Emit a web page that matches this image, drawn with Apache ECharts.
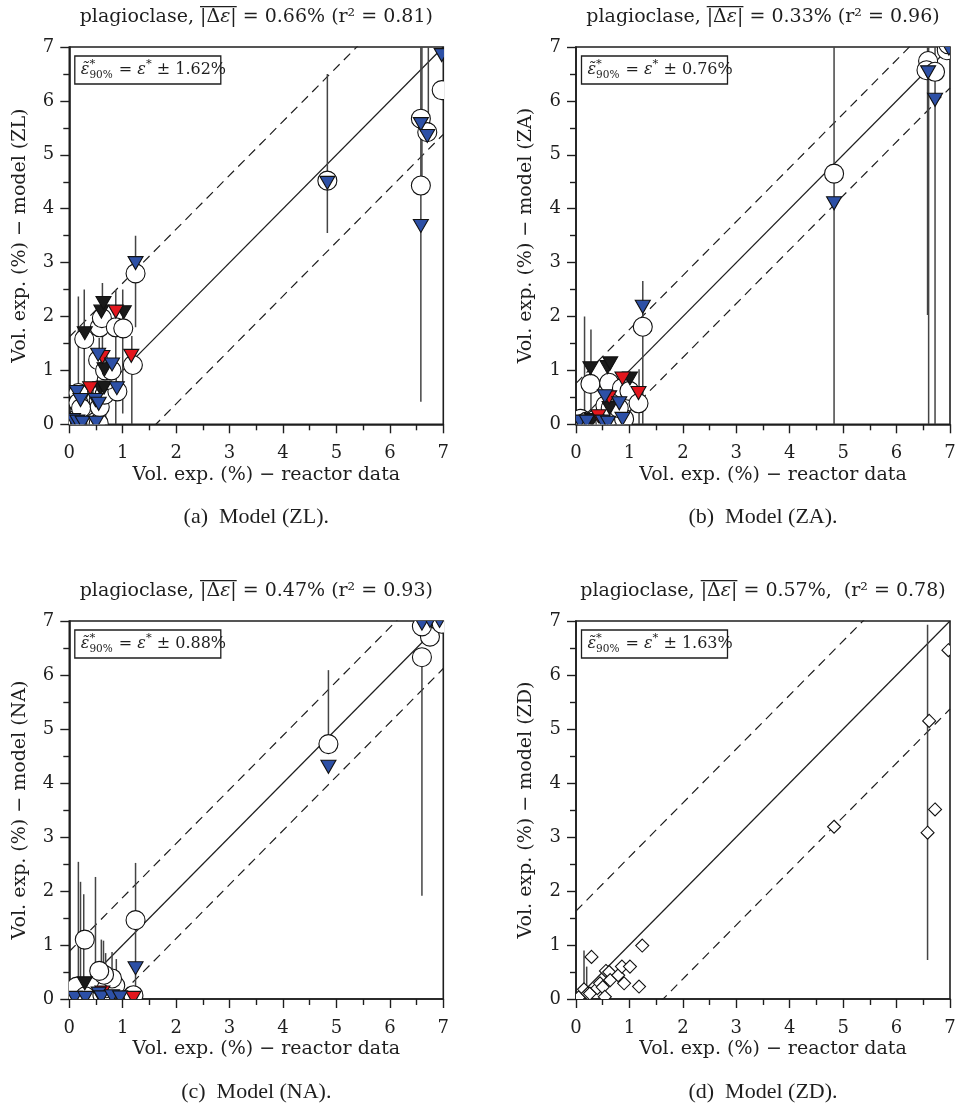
<!DOCTYPE html>
<html lang="en">
<head>
<meta charset="utf-8">
<title>plagioclase</title>
<script src="https://cdn.jsdelivr.net/npm/echarts@6/dist/echarts.min.js"></script>
<style>
  html, body { margin: 0; padding: 0; background: #fff; }
  #chart { width: 956px; height: 1105px; }
</style>
</head>
<body>
<div id="chart"></div>
<script>
// ---- data --------------------------------------------------------------
var modelKeys = ['ZL', 'ZA', 'NA', 'ZD'];
var captionLetters = ['(a)', '(b)', '(c)', '(d)'];
var meanAbsErr = ['0.66%', '0.33%', '0.47%', '0.57%,'];
var rSquared = ['0.81', '0.96', '0.93', '0.78'];
var band90 = [1.62, 0.76, 0.88, 1.63];
var axisMin = 0, axisMax = 7, axisStep = 1;

// (a) ZL : [reactor, model]
var zlCircles = [[0.05,0.05],[0.12,0.08],[0.2,0.05],[0.5,0.05],[0.55,0.02],[0.17,0.58],[0.17,0.4],[0.22,0.3],
  [0.55,0.45],[0.57,0.32],[0.62,0.6],[0.66,0.55],[0.9,0.61],[0.7,0.82],[0.28,1.58],[0.54,1.19],[0.67,1.0],
  [0.79,1.0],[1.19,1.1],[0.57,1.8],[0.61,1.97],[0.87,1.8],[1.01,1.78],[1.24,2.8],[4.83,4.52],[6.58,5.67],
  [6.58,4.43],[6.7,5.42],[6.97,6.2]];
var zlBlack = [[0.29,1.69],[0.6,2.09],[0.64,2.25],[1.02,2.08],[0.58,0.67],[0.65,0.68],[0.66,1.02]];
var zlRed = [[0.39,0.67],[0.87,2.09],[1.16,1.27],[0.62,1.25]];
var zlBlue = [[0.07,0.08],[0.15,0.05],[0.25,0.03],[0.5,0.03],[0.14,0.6],[0.21,0.45],[0.49,0.45],[0.55,0.38],
  [0.54,1.29],[0.8,1.11],[0.89,0.67],[1.24,2.99],[4.83,4.48],[6.58,5.57],[6.58,3.68],[6.7,5.35],[6.97,6.85]];
var zlBars = [[0.17,0,2.37],[0.28,0,2.5],[0.62,0.3,2.62],[0.56,0,1.6],[0.68,0,1.3],[0.87,0,2.49],[1.0,0.2,2.5],
  [1.17,0,1.64],[1.24,1.8,3.5],[4.83,3.55,6.5],[6.58,0.42,7.5],[6.6,4.6,7.5],[6.72,5.4,7.5]];

// (b) ZA
var zaCircles = [[0.09,0.1],[0.2,0.05],[0.35,0.08],[0.45,0.1],[0.55,0.05],[0.75,0.08],[0.9,0.1],[0.55,0.35],
  [0.65,0.3],[0.8,0.3],[0.27,0.75],[0.62,0.77],[0.86,0.67],[1.0,0.62],[1.17,0.39],[1.25,1.81],[4.83,4.65],
  [6.59,6.74],[6.56,6.57],[6.72,6.54],[6.94,6.94],[6.97,7.05]];
var zaBlack = [[0.3,0.08],[0.63,0.3],[0.27,1.04],[0.59,1.06],[0.64,1.13],[1.01,0.85]];
var zaRed = [[0.42,0.15],[0.62,0.5],[0.87,0.85],[1.17,0.58]];
var zaBlue = [[0.07,0.05],[0.2,0.05],[0.5,0.05],[0.6,0.03],[0.87,0.1],[0.54,0.52],[0.81,0.39],[1.25,2.18],
  [4.83,4.1],[6.59,6.53],[6.72,6.02],[6.98,6.97]];
var zaBars = [[0.16,0,2.0],[0.28,0,1.76],[1.18,0,1.02],[1.25,0,2.66],[4.83,0,7.5],[6.58,2.03,7.5],[6.6,0,7.5],
  [6.72,0,7.5]];

// (c) NA
var naCircles = [[0.1,0.05],[0.14,0.23],[0.46,0.23],[0.3,0.05],[0.62,0.08],[0.7,0.2],[0.86,0.25],[0.8,0.38],
  [0.65,0.45],[0.56,0.52],[1.2,0.07],[0.29,1.1],[1.24,1.46],[4.85,4.72],[6.6,6.33],[6.75,6.71],[6.6,6.9],
  [6.97,6.95]];
var naBlack = [[0.29,0.29]];
var naRed = [[0.62,0.12],[1.2,0.02]];
var naBlue = [[0.1,0.02],[0.3,0.02],[0.55,0.1],[0.6,0.03],[0.8,0.05],[0.95,0.03],[1.24,0.57],[4.85,4.3],
  [6.6,6.95],[6.75,7.0],[6.93,7.0]];
var naBars = [[0.17,0,2.54],[0.21,0,2.17],[0.27,0,1.94],[0.49,0,2.26],[0.6,0,1.1],[0.64,0,1.08],[0.68,0,0.85],
  [0.8,0,0.87],[0.88,0,0.74],[1.24,0,2.52],[4.85,4.72,6.09],[6.6,1.91,6.33]];

// (d) ZD
var zdDiamonds = [[0.05,0.03],[0.15,0.18],[0.22,0.1],[0.26,0.1],[0.29,0.78],[0.4,0.2],[0.45,0.29],[0.5,0.22],
  [0.54,0.04],[0.56,0.52],[0.62,0.5],[0.64,0.35],[0.79,0.44],[0.86,0.6],[0.9,0.29],[1.01,0.6],[1.18,0.23],
  [1.24,0.99],[4.83,3.19],[6.58,3.08],[6.61,5.15],[6.72,3.51],[6.97,6.46]];
var zdBars = [[0.15,0.2,0.9],[0.2,0.2,0.6],[6.58,0.72,6.93]];

var panelCircles = [zlCircles, zaCircles, naCircles, []];
var panelBlack = [zlBlack, zaBlack, naBlack, []];
var panelRed = [zlRed, zaRed, naRed, []];
var panelBlue = [zlBlue, zaBlue, naBlue, []];
var panelDiamonds = [[], [], [], zdDiamonds];
var panelBars = [zlBars, zaBars, naBars, zdBars];

// ---- layout ------------------------------------------------------------
var gridBoxes = [[69.3, 47, 374, 377.3], [576, 47, 374, 377.3], [69.3, 621, 374, 378], [576, 621, 374, 378]];
var SERIF = 'DejaVu Serif';
var CAPTION_FONT = 'Liberation Serif';
var INK = '#1e1e1e';

var ctx = document.createElement('canvas').getContext('2d');
function textWidth(t, size, italic, family) {
  ctx.font = (italic ? 'italic ' : '') + size + 'px "' + (family || SERIF) + '"';
  return ctx.measureText(t).width;
}

// a line of text built from pieces [text, italic, overline]
function mathLine(segs, cx, cy, size) {
  var els = [], widths = [], total = 0;
  segs.forEach(function (s) { var w = textWidth(s[0], size, s[1]); widths.push(w); total += w; });
  var x = cx - total / 2, o0 = null, o1 = null;
  segs.forEach(function (s, i) {
    els.push({ type: 'text', x: x, y: cy, z: 20, style: { text: s[0], fontFamily: SERIF, fontSize: size,
      fontStyle: s[1] ? 'italic' : 'normal', fill: INK, verticalAlign: 'middle', align: 'left' } });
    if (s[2]) { if (o0 === null) o0 = x; o1 = x + widths[i]; }
    x += widths[i];
  });
  if (o0 !== null) {
    els.push({ type: 'line', z: 20, shape: { x1: o0, y1: cy - size * 0.55, x2: o1, y2: cy - size * 0.55 },
      style: { stroke: INK, lineWidth: 1.2 } });
  }
  return els;
}

function bandNote(x, y, w, h, band) {
  var size = 16, small = 10.5;
  var els = [{ type: 'rect', z: 20, shape: { x: x, y: y, width: w, height: h },
    style: { fill: '#fff', stroke: INK, lineWidth: 1.3 } }];
  var bx = x + 6, cy = y + h / 2;
  function put(t, fs, italic, dy) {
    els.push({ type: 'text', x: bx, y: cy + dy, z: 21, style: { text: t, fontFamily: SERIF, fontSize: fs,
      fontStyle: italic ? 'italic' : 'normal', fill: INK, verticalAlign: 'middle', align: 'left' } });
    return textWidth(t, fs, italic);
  }
  bx += put('\u03b5\u0303', size, true, 0);
  var w1 = put('*', small + 1, false, -6);
  var w2 = put('90%', small, false, 5);
  bx += Math.max(w1, w2) + 1;
  bx += put(' = ', size, false, 0);
  bx += put('\u03b5', size, true, 0);
  bx += put('*', small + 1, false, -6);
  put(' \u00b1 ' + band.toFixed(2) + '%', size, false, 0);
  return els;
}

function markerSeries(i, data, shape, fill, z) {
  return {
    type: 'custom', xAxisIndex: i, yAxisIndex: i, clip: true, z: z, silent: true, data: data,
    renderItem: function (params, api) {
      var p = api.coord([api.value(0), api.value(1)]);
      var st = { fill: fill, stroke: '#111', lineWidth: 1.1 };
      if (shape === 'circle') {
        return { type: 'circle', shape: { cx: p[0], cy: p[1], r: 9.5 }, style: st };
      }
      if (shape === 'tri') {
        return { type: 'polygon', shape: { points: [[p[0] - 7.5, p[1] - 6.5], [p[0] + 7.5, p[1] - 6.5], [p[0], p[1] + 6.5]] }, style: st };
      }
      return { type: 'polygon', shape: { points: [[p[0], p[1] - 6.5], [p[0] + 6.5, p[1]], [p[0], p[1] + 6.5], [p[0] - 6.5, p[1]]] }, style: st };
    }
  };
}

function barSeries(i, data) {
  return {
    type: 'custom', xAxisIndex: i, yAxisIndex: i, clip: true, z: 2, silent: true, data: data,
    renderItem: function (params, api) {
      var a = api.coord([api.value(0), api.value(1)]);
      var b = api.coord([api.value(0), api.value(2)]);
      return { type: 'line', shape: { x1: a[0], y1: a[1], x2: b[0], y2: b[1] },
        style: { stroke: '#444', lineWidth: 1.5 } };
    }
  };
}

function refLine(i, data, dashed) {
  return {
    type: 'line', xAxisIndex: i, yAxisIndex: i, data: data, clip: true, silent: true, z: 1,
    showSymbol: false, symbol: 'none', animation: false,
    lineStyle: { color: INK, width: 1.2, type: dashed ? [9, 6] : 'solid' }
  };
}

var grids = [], xAxes = [], yAxes = [], series = [], graphics = [];
var axisFont = { fontFamily: SERIF, fontSize: 18, color: INK };
var nameFont = { fontFamily: SERIF, fontSize: 19, color: INK };

gridBoxes.forEach(function (g, i) {
  grids.push({ left: g[0], top: g[1], width: g[2], height: g[3], show: true, borderColor: INK,
    borderWidth: 1.6, backgroundColor: 'transparent', containLabel: false, outerBoundsMode: 'none' });
  var tick = { show: true, length: 9, lineStyle: { color: INK, width: 1.4 } };
  var minor = { show: true, splitNumber: 2, length: 6, lineStyle: { color: INK, width: 1.4 } };
  xAxes.push({ gridIndex: i, type: 'value', min: axisMin, max: axisMax, interval: axisStep,
    name: 'Vol. exp. (%) \u2212 reactor data', nameLocation: 'middle', nameGap: 41, nameMoveOverlap: false,
    nameTextStyle: Object.assign({ padding: [0, 0, 0, 20] }, nameFont),
    axisLine: { show: true, onZero: false, lineStyle: { color: INK, width: 1.6 } },
    axisTick: tick, minorTick: minor, splitLine: { show: false }, minorSplitLine: { show: false },
    axisLabel: Object.assign({ margin: 20 }, axisFont) });
  yAxes.push({ gridIndex: i, type: 'value', min: axisMin, max: axisMax, interval: axisStep,
    name: 'Vol. exp. (%) \u2212 model (' + modelKeys[i] + ')', nameLocation: 'middle', nameGap: 40,
    nameMoveOverlap: false, nameTextStyle: nameFont,
    axisLine: { show: true, onZero: false, lineStyle: { color: INK, width: 1.6 } },
    axisTick: tick, minorTick: minor, splitLine: { show: false }, minorSplitLine: { show: false },
    axisLabel: Object.assign({ margin: 15 }, axisFont) });

  var d = band90[i];
  series.push(refLine(i, [[axisMin, axisMin], [axisMax, axisMax]], false));
  series.push(refLine(i, [[axisMin, axisMin + d], [axisMax, axisMax + d]], true));
  series.push(refLine(i, [[axisMin, axisMin - d], [axisMax, axisMax - d]], true));
  series.push(barSeries(i, panelBars[i]));
  series.push(markerSeries(i, panelCircles[i], 'circle', '#fff', 3));
  series.push(markerSeries(i, panelDiamonds[i], 'diamond', '#fff', 3));
  series.push(markerSeries(i, panelBlack[i], 'tri', '#1a1a1a', 4));
  series.push(markerSeries(i, panelRed[i], 'tri', '#e3161d', 5));
  series.push(markerSeries(i, panelBlue[i], 'tri', '#2d50a6', 6));

  var cx = g[0] + g[2] / 2;
  graphics = graphics.concat(mathLine([
    ['plagioclase, ', false, false], ['|\u0394', false, true], ['\u03b5', true, true], ['|', false, true],
    [' = ' + meanAbsErr[i] + (i === 3 ? ' ' : '') + ' (r\u00b2 = ' + rSquared[i] + ')', false, false]
  ], cx, g[1] - 30, 19));
  graphics = graphics.concat(bandNote(g[0] + 5.5, g[1] + 9, 146, 28, d));
  graphics.push({ type: 'text', x: cx, y: g[1] + g[3] + 93, z: 20, style: {
    text: captionLetters[i] + '  Model (' + modelKeys[i] + ').', fontFamily: CAPTION_FONT, fontSize: 22,
    fill: INK, align: 'center', verticalAlign: 'middle' } });
});

var chart = echarts.init(document.getElementById('chart'), null, { renderer: 'canvas' });
chart.setOption({
  animation: false,
  backgroundColor: '#fff',
  grid: grids,
  xAxis: xAxes,
  yAxis: yAxes,
  series: series,
  graphic: { elements: graphics }
});
</script>
</body>
</html>
